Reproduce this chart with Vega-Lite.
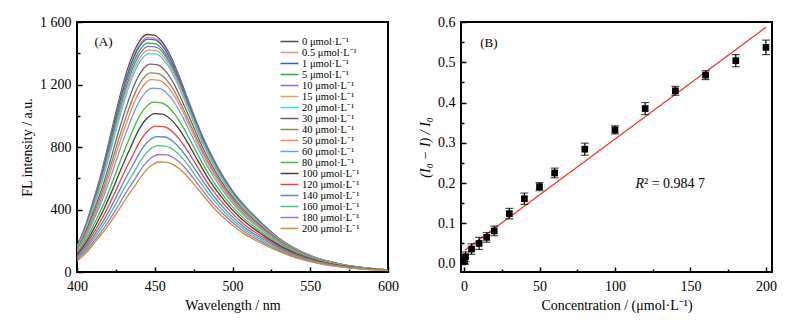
{
  "$schema": "https://vega.github.io/schema/vega-lite/v6.json",
  "padding": {"left": 19, "top": 14, "right": 0, "bottom": 0},
  "spacing": 17,
  "datasets": {
    "spec": [
      {"c":0,"w":400,"I":165},{"c":0,"w":405,"I":285},{"c":0,"w":410,"I":440},{"c":0,"w":415,"I":610},{"c":0,"w":420,"I":810},{"c":0,"w":425,"I":1020},{"c":0,"w":430,"I":1215},{"c":0,"w":435,"I":1370},{"c":0,"w":440,"I":1475},{"c":0,"w":445,"I":1520},{"c":0,"w":450,"I":1515},{"c":0,"w":455,"I":1470},{"c":0,"w":460,"I":1385},{"c":0,"w":465,"I":1270},{"c":0,"w":470,"I":1140},{"c":0,"w":480,"I":885},{"c":0,"w":490,"I":680},{"c":0,"w":500,"I":520},{"c":0,"w":515,"I":350},{"c":0,"w":530,"I":215},{"c":0,"w":550,"I":105},{"c":0,"w":575,"I":40},{"c":0,"w":600,"I":14},
      {"c":0.5,"w":400,"I":163},{"c":0.5,"w":405,"I":282},{"c":0.5,"w":410.1,"I":435},{"c":0.5,"w":415.1,"I":603},{"c":0.5,"w":420.1,"I":800},{"c":0.5,"w":425.2,"I":1008},{"c":0.5,"w":430.2,"I":1200},{"c":0.5,"w":435.2,"I":1354},{"c":0.5,"w":440.2,"I":1457},{"c":0.5,"w":445.2,"I":1502},{"c":0.5,"w":450.2,"I":1497},{"c":0.5,"w":455.2,"I":1452},{"c":0.5,"w":460.2,"I":1368},{"c":0.5,"w":465.2,"I":1255},{"c":0.5,"w":470.2,"I":1126},{"c":0.5,"w":480.2,"I":874},{"c":0.5,"w":490.2,"I":672},{"c":0.5,"w":500.2,"I":514},{"c":0.5,"w":515.2,"I":346},{"c":0.5,"w":530.2,"I":212},{"c":0.5,"w":550.2,"I":104},{"c":0.5,"w":575.2,"I":40},{"c":0.5,"w":600.2,"I":14},
      {"c":1,"w":400,"I":162},{"c":1,"w":405.1,"I":279},{"c":1,"w":410.1,"I":431},{"c":1,"w":415.2,"I":598},{"c":1,"w":420.2,"I":794},{"c":1,"w":425.2,"I":1000},{"c":1,"w":430.3,"I":1191},{"c":1,"w":435.3,"I":1343},{"c":1,"w":440.3,"I":1446},{"c":1,"w":445.3,"I":1490},{"c":1,"w":450.3,"I":1485},{"c":1,"w":455.3,"I":1441},{"c":1,"w":460.3,"I":1357},{"c":1,"w":465.3,"I":1245},{"c":1,"w":470.3,"I":1117},{"c":1,"w":480.3,"I":867},{"c":1,"w":490.3,"I":666},{"c":1,"w":500.3,"I":510},{"c":1,"w":515.3,"I":343},{"c":1,"w":530.3,"I":211},{"c":1,"w":550.3,"I":103},{"c":1,"w":575.3,"I":39},{"c":1,"w":600.3,"I":14},
      {"c":5,"w":400,"I":159},{"c":5,"w":405.1,"I":275},{"c":5,"w":410.2,"I":424},{"c":5,"w":415.3,"I":588},{"c":5,"w":420.3,"I":781},{"c":5,"w":425.4,"I":983},{"c":5,"w":430.5,"I":1171},{"c":5,"w":435.5,"I":1321},{"c":5,"w":440.5,"I":1422},{"c":5,"w":445.5,"I":1465},{"c":5,"w":450.5,"I":1460},{"c":5,"w":455.5,"I":1417},{"c":5,"w":460.5,"I":1335},{"c":5,"w":465.5,"I":1224},{"c":5,"w":470.5,"I":1099},{"c":5,"w":480.5,"I":853},{"c":5,"w":490.5,"I":656},{"c":5,"w":500.5,"I":501},{"c":5,"w":515.5,"I":337},{"c":5,"w":530.5,"I":207},{"c":5,"w":550.5,"I":101},{"c":5,"w":575.5,"I":39},{"c":5,"w":600.5,"I":13},
      {"c":10,"w":400,"I":157},{"c":10,"w":405.1,"I":271},{"c":10,"w":410.3,"I":418},{"c":10,"w":415.4,"I":580},{"c":10,"w":420.5,"I":770},{"c":10,"w":425.7,"I":969},{"c":10,"w":430.8,"I":1154},{"c":10,"w":435.8,"I":1302},{"c":10,"w":440.8,"I":1401},{"c":10,"w":445.8,"I":1444},{"c":10,"w":450.8,"I":1439},{"c":10,"w":455.8,"I":1397},{"c":10,"w":460.8,"I":1316},{"c":10,"w":465.8,"I":1207},{"c":10,"w":470.8,"I":1083},{"c":10,"w":480.8,"I":841},{"c":10,"w":490.8,"I":646},{"c":10,"w":500.8,"I":494},{"c":10,"w":515.8,"I":333},{"c":10,"w":530.8,"I":204},{"c":10,"w":550.8,"I":100},{"c":10,"w":575.8,"I":38},{"c":10,"w":600.8,"I":13},
      {"c":15,"w":400,"I":154},{"c":15,"w":405.2,"I":266},{"c":15,"w":410.3,"I":411},{"c":15,"w":415.5,"I":570},{"c":15,"w":420.7,"I":757},{"c":15,"w":425.8,"I":954},{"c":15,"w":431,"I":1136},{"c":15,"w":436,"I":1281},{"c":15,"w":441,"I":1379},{"c":15,"w":446,"I":1421},{"c":15,"w":451,"I":1417},{"c":15,"w":456,"I":1374},{"c":15,"w":461,"I":1295},{"c":15,"w":466,"I":1187},{"c":15,"w":471,"I":1066},{"c":15,"w":481,"I":827},{"c":15,"w":491,"I":636},{"c":15,"w":501,"I":486},{"c":15,"w":516,"I":327},{"c":15,"w":531,"I":201},{"c":15,"w":551,"I":98},{"c":15,"w":576,"I":37},{"c":15,"w":601,"I":13},
      {"c":20,"w":400,"I":152},{"c":20,"w":405.2,"I":262},{"c":20,"w":410.4,"I":405},{"c":20,"w":415.6,"I":561},{"c":20,"w":420.8,"I":745},{"c":20,"w":426,"I":938},{"c":20,"w":431.2,"I":1118},{"c":20,"w":436.2,"I":1260},{"c":20,"w":441.2,"I":1357},{"c":20,"w":446.2,"I":1398},{"c":20,"w":451.2,"I":1394},{"c":20,"w":456.2,"I":1352},{"c":20,"w":461.2,"I":1274},{"c":20,"w":466.2,"I":1168},{"c":20,"w":471.2,"I":1049},{"c":20,"w":481.2,"I":814},{"c":20,"w":491.2,"I":626},{"c":20,"w":501.2,"I":478},{"c":20,"w":516.2,"I":322},{"c":20,"w":531.2,"I":198},{"c":20,"w":551.2,"I":97},{"c":20,"w":576.2,"I":37},{"c":20,"w":601.2,"I":13},
      {"c":30,"w":400,"I":144},{"c":30,"w":405.3,"I":249},{"c":30,"w":410.6,"I":385},{"c":30,"w":416,"I":534},{"c":30,"w":421.3,"I":709},{"c":30,"w":426.6,"I":893},{"c":30,"w":431.9,"I":1063},{"c":30,"w":436.9,"I":1199},{"c":30,"w":441.9,"I":1291},{"c":30,"w":446.9,"I":1330},{"c":30,"w":451.9,"I":1326},{"c":30,"w":456.9,"I":1286},{"c":30,"w":461.9,"I":1212},{"c":30,"w":466.9,"I":1111},{"c":30,"w":471.9,"I":998},{"c":30,"w":481.9,"I":774},{"c":30,"w":491.9,"I":595},{"c":30,"w":501.9,"I":455},{"c":30,"w":516.9,"I":306},{"c":30,"w":531.9,"I":188},{"c":30,"w":551.9,"I":92},{"c":30,"w":576.9,"I":35},{"c":30,"w":601.9,"I":12},
      {"c":40,"w":400,"I":138},{"c":40,"w":405.4,"I":239},{"c":40,"w":410.8,"I":369},{"c":40,"w":416.2,"I":511},{"c":40,"w":421.6,"I":679},{"c":40,"w":427,"I":855},{"c":40,"w":432.4,"I":1018},{"c":40,"w":437.4,"I":1148},{"c":40,"w":442.4,"I":1236},{"c":40,"w":447.4,"I":1274},{"c":40,"w":452.4,"I":1270},{"c":40,"w":457.4,"I":1232},{"c":40,"w":462.4,"I":1161},{"c":40,"w":467.4,"I":1064},{"c":40,"w":472.4,"I":955},{"c":40,"w":482.4,"I":742},{"c":40,"w":492.4,"I":570},{"c":40,"w":502.4,"I":436},{"c":40,"w":517.4,"I":293},{"c":40,"w":532.4,"I":180},{"c":40,"w":552.4,"I":88},{"c":40,"w":577.4,"I":34},{"c":40,"w":602.4,"I":12},
      {"c":50,"w":400,"I":134},{"c":50,"w":405.5,"I":231},{"c":50,"w":411,"I":356},{"c":50,"w":416.5,"I":494},{"c":50,"w":421.9,"I":656},{"c":50,"w":427.4,"I":826},{"c":50,"w":432.9,"I":984},{"c":50,"w":437.9,"I":1110},{"c":50,"w":442.9,"I":1195},{"c":50,"w":447.9,"I":1231},{"c":50,"w":452.9,"I":1227},{"c":50,"w":457.9,"I":1191},{"c":50,"w":462.9,"I":1122},{"c":50,"w":467.9,"I":1029},{"c":50,"w":472.9,"I":923},{"c":50,"w":482.9,"I":717},{"c":50,"w":492.9,"I":551},{"c":50,"w":502.9,"I":421},{"c":50,"w":517.9,"I":284},{"c":50,"w":532.9,"I":174},{"c":50,"w":552.9,"I":85},{"c":50,"w":577.9,"I":32},{"c":50,"w":602.9,"I":11},
      {"c":60,"w":400,"I":128},{"c":60,"w":405.6,"I":221},{"c":60,"w":411.1,"I":341},{"c":60,"w":416.7,"I":472},{"c":60,"w":422.3,"I":627},{"c":60,"w":427.8,"I":789},{"c":60,"w":433.4,"I":940},{"c":60,"w":438.4,"I":1060},{"c":60,"w":443.4,"I":1142},{"c":60,"w":448.4,"I":1176},{"c":60,"w":453.4,"I":1173},{"c":60,"w":458.4,"I":1138},{"c":60,"w":463.4,"I":1072},{"c":60,"w":468.4,"I":983},{"c":60,"w":473.4,"I":882},{"c":60,"w":483.4,"I":685},{"c":60,"w":493.4,"I":526},{"c":60,"w":503.4,"I":402},{"c":60,"w":518.4,"I":271},{"c":60,"w":533.4,"I":166},{"c":60,"w":553.4,"I":81},{"c":60,"w":578.4,"I":31},{"c":60,"w":603.4,"I":11},
      {"c":80,"w":400,"I":118},{"c":80,"w":405.7,"I":204},{"c":80,"w":411.4,"I":315},{"c":80,"w":417.2,"I":436},{"c":80,"w":422.9,"I":579},{"c":80,"w":428.6,"I":729},{"c":80,"w":434.3,"I":869},{"c":80,"w":439.3,"I":980},{"c":80,"w":444.3,"I":1055},{"c":80,"w":449.3,"I":1087},{"c":80,"w":454.3,"I":1083},{"c":80,"w":459.3,"I":1051},{"c":80,"w":464.3,"I":990},{"c":80,"w":469.3,"I":908},{"c":80,"w":474.3,"I":815},{"c":80,"w":484.3,"I":633},{"c":80,"w":494.3,"I":486},{"c":80,"w":504.3,"I":372},{"c":80,"w":519.3,"I":250},{"c":80,"w":534.3,"I":154},{"c":80,"w":554.3,"I":75},{"c":80,"w":579.3,"I":29},{"c":80,"w":604.3,"I":10},
      {"c":100,"w":400,"I":110},{"c":100,"w":405.9,"I":190},{"c":100,"w":411.7,"I":293},{"c":100,"w":417.5,"I":407},{"c":100,"w":423.4,"I":540},{"c":100,"w":429.2,"I":680},{"c":100,"w":435,"I":810},{"c":100,"w":440,"I":914},{"c":100,"w":445,"I":984},{"c":100,"w":450,"I":1014},{"c":100,"w":455,"I":1011},{"c":100,"w":460,"I":980},{"c":100,"w":465,"I":924},{"c":100,"w":470,"I":847},{"c":100,"w":475,"I":760},{"c":100,"w":485,"I":590},{"c":100,"w":495,"I":454},{"c":100,"w":505,"I":347},{"c":100,"w":520,"I":233},{"c":100,"w":535,"I":143},{"c":100,"w":555,"I":70},{"c":100,"w":580,"I":27},{"c":100,"w":605,"I":9},
      {"c":120,"w":400,"I":101},{"c":120,"w":406,"I":175},{"c":120,"w":411.9,"I":270},{"c":120,"w":417.9,"I":375},{"c":120,"w":423.9,"I":497},{"c":120,"w":429.8,"I":626},{"c":120,"w":435.8,"I":746},{"c":120,"w":440.8,"I":841},{"c":120,"w":445.8,"I":906},{"c":120,"w":450.8,"I":933},{"c":120,"w":455.8,"I":930},{"c":120,"w":460.8,"I":903},{"c":120,"w":465.8,"I":850},{"c":120,"w":470.8,"I":780},{"c":120,"w":475.8,"I":700},{"c":120,"w":485.8,"I":543},{"c":120,"w":495.8,"I":418},{"c":120,"w":505.8,"I":319},{"c":120,"w":520.8,"I":215},{"c":120,"w":535.8,"I":132},{"c":120,"w":555.8,"I":64},{"c":120,"w":580.8,"I":25},{"c":120,"w":605.8,"I":9},
      {"c":140,"w":400,"I":94},{"c":140,"w":406.1,"I":162},{"c":140,"w":412.1,"I":251},{"c":140,"w":418.2,"I":348},{"c":140,"w":424.3,"I":462},{"c":140,"w":430.3,"I":581},{"c":140,"w":436.4,"I":693},{"c":140,"w":441.4,"I":781},{"c":140,"w":446.4,"I":841},{"c":140,"w":451.4,"I":866},{"c":140,"w":456.4,"I":864},{"c":140,"w":461.4,"I":838},{"c":140,"w":466.4,"I":789},{"c":140,"w":471.4,"I":724},{"c":140,"w":476.4,"I":650},{"c":140,"w":486.4,"I":504},{"c":140,"w":496.4,"I":388},{"c":140,"w":506.4,"I":296},{"c":140,"w":521.4,"I":200},{"c":140,"w":536.4,"I":123},{"c":140,"w":556.4,"I":60},{"c":140,"w":581.4,"I":23},{"c":140,"w":606.4,"I":8},
      {"c":160,"w":400,"I":88},{"c":160,"w":406.2,"I":152},{"c":160,"w":412.3,"I":234},{"c":160,"w":418.5,"I":325},{"c":160,"w":424.7,"I":431},{"c":160,"w":430.8,"I":543},{"c":160,"w":437,"I":646},{"c":160,"w":442,"I":729},{"c":160,"w":447,"I":785},{"c":160,"w":452,"I":809},{"c":160,"w":457,"I":806},{"c":160,"w":462,"I":782},{"c":160,"w":467,"I":737},{"c":160,"w":472,"I":676},{"c":160,"w":477,"I":606},{"c":160,"w":487,"I":471},{"c":160,"w":497,"I":362},{"c":160,"w":507,"I":277},{"c":160,"w":522,"I":186},{"c":160,"w":537,"I":114},{"c":160,"w":557,"I":56},{"c":160,"w":582,"I":21},{"c":160,"w":607,"I":7},
      {"c":180,"w":400,"I":82},{"c":180,"w":406.3,"I":141},{"c":180,"w":412.5,"I":218},{"c":180,"w":418.8,"I":302},{"c":180,"w":425.1,"I":401},{"c":180,"w":431.3,"I":505},{"c":180,"w":437.6,"I":601},{"c":180,"w":442.6,"I":678},{"c":180,"w":447.6,"I":730},{"c":180,"w":452.6,"I":752},{"c":180,"w":457.6,"I":750},{"c":180,"w":462.6,"I":728},{"c":180,"w":467.6,"I":686},{"c":180,"w":472.6,"I":629},{"c":180,"w":477.6,"I":564},{"c":180,"w":487.6,"I":438},{"c":180,"w":497.6,"I":337},{"c":180,"w":507.6,"I":257},{"c":180,"w":522.6,"I":173},{"c":180,"w":537.6,"I":106},{"c":180,"w":557.6,"I":52},{"c":180,"w":582.6,"I":20},{"c":180,"w":607.6,"I":7},
      {"c":200,"w":400,"I":70},{"c":200,"w":406.4,"I":128},{"c":200,"w":412.6,"I":204},{"c":200,"w":419,"I":282},{"c":200,"w":425.4,"I":375},{"c":200,"w":431.6,"I":472},{"c":200,"w":438,"I":563},{"c":200,"w":443,"I":634},{"c":200,"w":448,"I":683},{"c":200,"w":453,"I":704},{"c":200,"w":458,"I":701},{"c":200,"w":463,"I":681},{"c":200,"w":468,"I":641},{"c":200,"w":473,"I":588},{"c":200,"w":478,"I":528},{"c":200,"w":488,"I":410},{"c":200,"w":498,"I":315},{"c":200,"w":508,"I":241},{"c":200,"w":523,"I":162},{"c":200,"w":538,"I":100},{"c":200,"w":558,"I":49},{"c":200,"w":583,"I":19},{"c":200,"w":608,"I":6}
    ],
    "pts": [
      {"c":0.5,"v":0.006,"e":0.008},{"c":1,"v":0.017,"e":0.012},{"c":5,"v":0.036,"e":0.013},{"c":10,"v":0.05,"e":0.015},{"c":15,"v":0.065,"e":0.012},{"c":20,"v":0.081,"e":0.012},{"c":30,"v":0.124,"e":0.013},{"c":40,"v":0.161,"e":0.014},{"c":50,"v":0.191,"e":0.01},{"c":60,"v":0.225,"e":0.012},{"c":80,"v":0.284,"e":0.015},{"c":100,"v":0.332,"e":0.01},{"c":120,"v":0.385,"e":0.015},{"c":140,"v":0.429,"e":0.011},{"c":160,"v":0.468,"e":0.011},{"c":180,"v":0.504,"e":0.015},{"c":200,"v":0.537,"e":0.018}
    ],
    "fit": [{"c":0.5,"v":0.033},{"c":200,"v":0.587}]
  },
  "hconcat": [
    {
      "width": 311, "height": 250,
      "layer": [
        {
          "data": {"name": "spec"},
          "mark": {"type": "line", "interpolate": "monotone", "strokeWidth": 1.3, "clip": true},
          "encoding": {
            "x": {"field": "w", "type": "quantitative", "scale": {"domain": [400, 600], "nice": false, "zero": false},
                  "axis": {"values": [400, 450, 500, 550, 600], "title": "Wavelength / nm", "labelFlush": false, "labelPadding": 12, "titlePadding": 5}},
            "y": {"field": "I", "type": "quantitative", "scale": {"domain": [0, 1600], "nice": false},
                  "axis": {"values": [0, 400, 800, 1200, 1600], "title": "FL intensity / a.u.", "labelExpr": "replace(format(datum.value, ','), ',', ' ')", "titlePadding": 5}},
            "color": {"field": "c", "type": "nominal",
                      "scale": {"domain": [0,0.5,1,5,10,15,20,30,40,50,60,80,100,120,140,160,180,200],
                                "range": ["#4d4d4d","#f08a8a","#2f5fd0","#2ea84a","#8a6ad0","#d9a55a","#45d0d8","#7d5a5f","#8c8a55","#ff7f55","#6aa0e0","#3cbf3c","#404040","#ff3b3b","#5a84d0","#4cbf8a","#9a72d6","#d08e2e"]},
                      "legend": {"orient": "none", "legendX": 207, "legendY": 14, "title": null,
                                 "symbolType": "M-2,0L2,0", "symbolSize": 81, "symbolStrokeWidth": 1.5,
                                 "labelExpr": "datum.label + ' μmol·L⁻¹'", "labelFont": "Liberation Serif", "labelFontSize": 10.5, "labelColor": "black",
                                 "rowPadding": 0, "labelOffset": 7, "padding": 0}}
          }
        },
        {
          "data": {"values": [{"x": 417, "y": 1470, "t": "(A)"}]},
          "mark": {"type": "text", "font": "Liberation Serif", "fontSize": 13, "color": "black"},
          "encoding": {
            "x": {"field": "x", "type": "quantitative", "scale": {"domain": [400, 600], "nice": false, "zero": false},
                  "axis": {"orient": "bottom", "values": [425, 475, 525, 575], "labels": false, "title": null, "tickSize": -3}},
            "y": {"field": "y", "type": "quantitative", "scale": {"domain": [0, 1600], "nice": false},
                  "axis": {"orient": "left", "values": [200, 600, 1000, 1400], "labels": false, "title": null, "tickSize": -3}},
            "text": {"field": "t"}
          }
        }
      ],
      "resolve": {"axis": {"x": "independent", "y": "independent"}}
    },
    {
      "width": 311, "height": 250,
      "layer": [
        {
          "data": {"name": "fit"},
          "mark": {"type": "line", "color": "#ff2a2a", "strokeWidth": 1.3},
          "encoding": {
            "x": {"field": "c", "type": "quantitative", "scale": {"domain": [-2, 204], "nice": false, "zero": false},
                  "axis": {"values": [0, 50, 100, 150, 200], "title": "Concentration / (μmol·L⁻¹)", "labelFlush": false, "labelPadding": 12, "titlePadding": 5}},
            "y": {"field": "v", "type": "quantitative", "scale": {"domain": [-0.021, 0.6], "nice": false, "zero": false},
                  "axis": {"values": [0, 0.1, 0.2, 0.3, 0.4, 0.5, 0.6], "format": ".1f", "title": "(I₀ − I) / I₀", "titleFontStyle": "italic", "titlePadding": 5}}
          }
        },
        {
          "data": {"name": "pts"},
          "mark": {"type": "errorbar", "ticks": true, "color": "black", "thickness": 1.2, "size": 8},
          "encoding": {
            "x": {"field": "c", "type": "quantitative", "axis": null},
            "y": {"field": "v", "type": "quantitative", "axis": null},
            "yError": {"field": "e"}
          }
        },
        {
          "data": {"name": "pts"},
          "mark": {"type": "square", "size": 45, "color": "black", "opacity": 1},
          "encoding": {
            "x": {"field": "c", "type": "quantitative", "axis": null},
            "y": {"field": "v", "type": "quantitative", "axis": null}
          }
        },
        {
          "data": {"values": [{"x": 16.5, "y": 0.548, "t": "(B)"}]},
          "mark": {"type": "text", "font": "Liberation Serif", "fontSize": 13, "color": "black"},
          "encoding": {
            "x": {"field": "x", "type": "quantitative",
                  "axis": {"orient": "bottom", "values": [25, 75, 125, 175], "labels": false, "title": null, "tickSize": -3}},
            "y": {"field": "y", "type": "quantitative",
                  "axis": {"orient": "left", "values": [0.05, 0.15, 0.25, 0.35, 0.45, 0.55], "labels": false, "title": null, "tickSize": -3}},
            "text": {"field": "t"}
          }
        },
        {
          "data": {"values": [{"x": 119.2, "y": 0.197, "t": "R"}]},
          "mark": {"type": "text", "font": "Liberation Serif", "fontSize": 14, "fontStyle": "italic", "align": "right", "color": "black"},
          "encoding": {
            "x": {"field": "x", "type": "quantitative", "axis": null},
            "y": {"field": "y", "type": "quantitative", "axis": null},
            "text": {"field": "t"}
          }
        },
        {
          "data": {"values": [{"x": 119.2, "y": 0.197, "t": "² = 0.984 7"}]},
          "mark": {"type": "text", "font": "Liberation Serif", "fontSize": 14, "align": "left", "color": "black"},
          "encoding": {
            "x": {"field": "x", "type": "quantitative", "axis": null},
            "y": {"field": "y", "type": "quantitative", "axis": null},
            "text": {"field": "t"}
          }
        }
      ],
      "resolve": {"axis": {"x": "independent", "y": "independent"}}
    }
  ],
  "config": {
    "font": "Liberation Serif",
    "view": {"stroke": "black", "strokeWidth": 2},
    "axis": {"domain": false, "grid": false, "ticks": true, "tickColor": "black", "tickWidth": 1.5, "tickSize": -5,
             "labelColor": "black", "labelFontSize": 14, "labelFont": "Liberation Serif", "labelPadding": 11,
             "titleFont": "Liberation Serif", "titleFontSize": 14, "titleFontWeight": "normal", "titleColor": "black"}
  }
}
